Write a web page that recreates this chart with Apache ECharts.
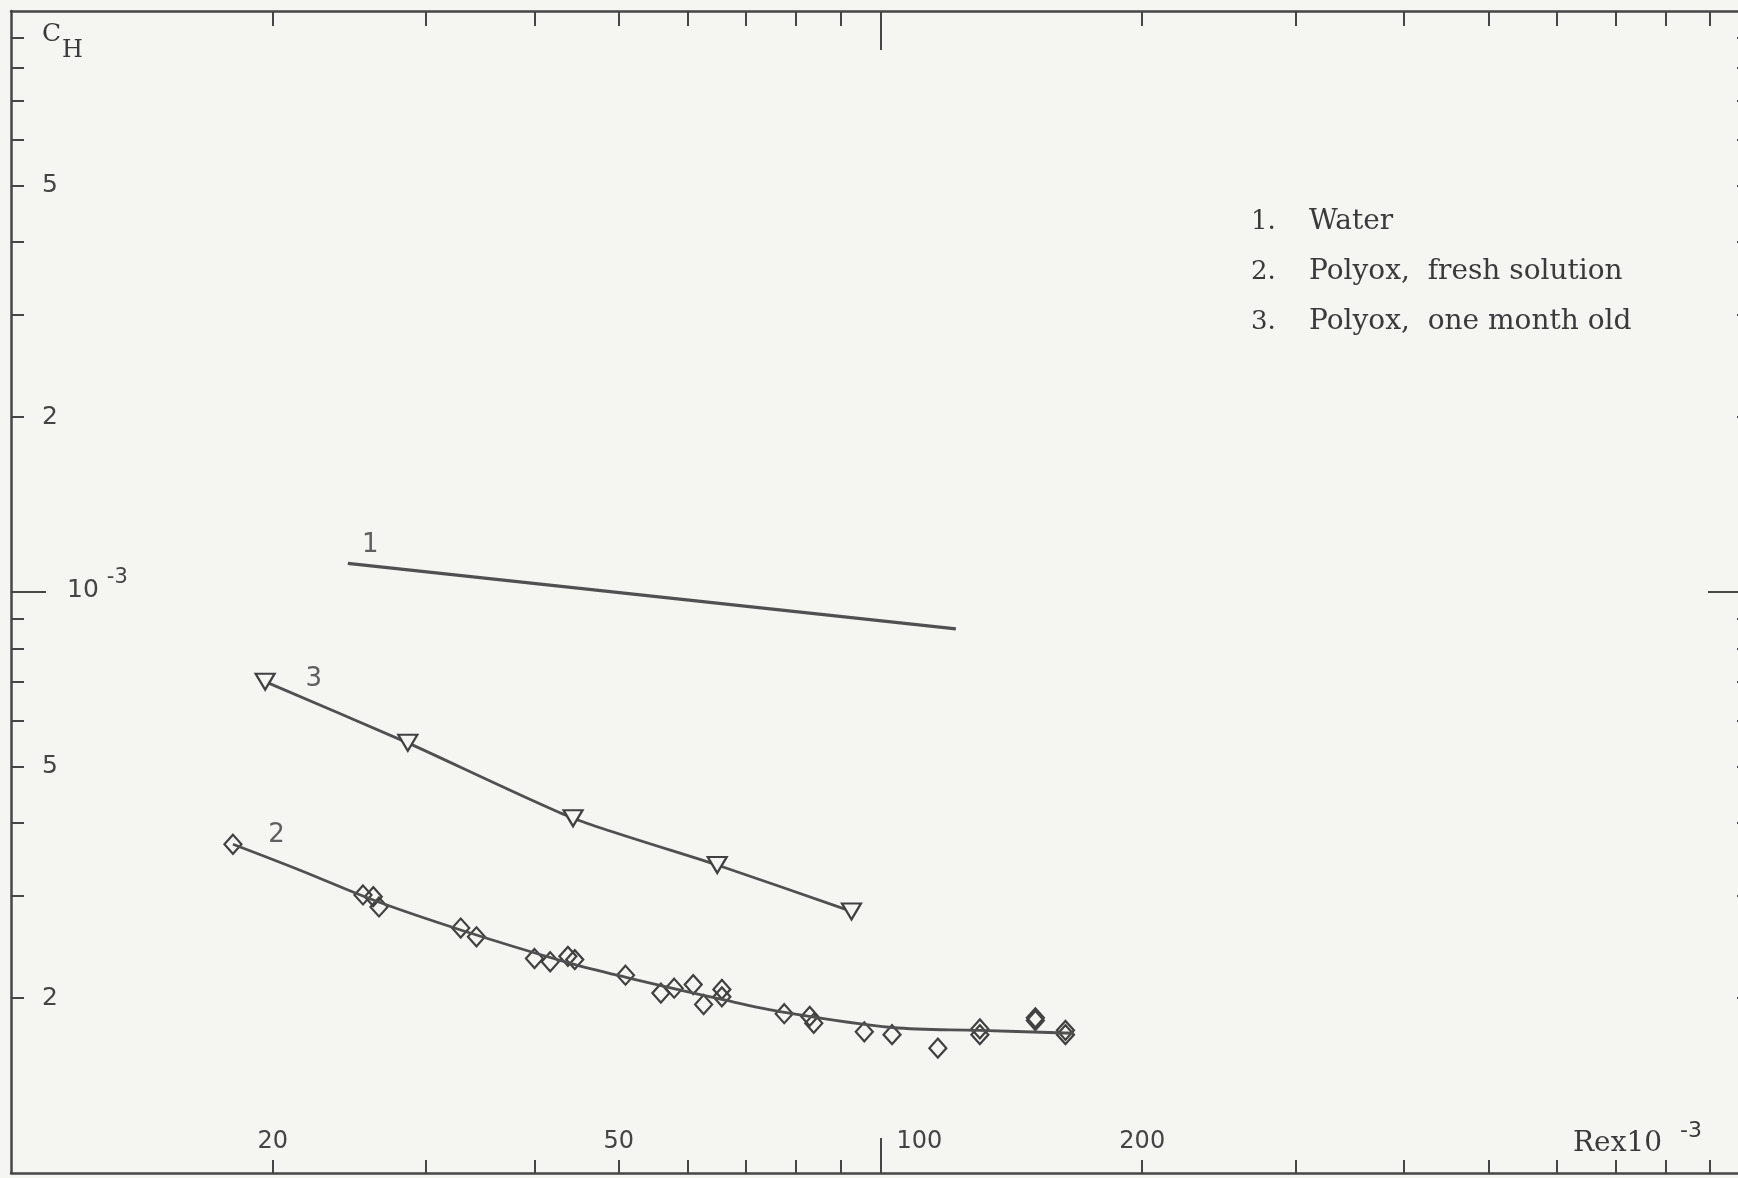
<!DOCTYPE html>
<html>
<head>
<meta charset="utf-8">
<title>C_H vs Re</title>
<script src="https://cdn.jsdelivr.net/npm/echarts@6/dist/echarts.min.js"></script>
<style>
html, body { margin: 0; padding: 0; overflow: hidden; background: #f5f5f2; }
#chart { width: 1738px; height: 1178px; }
</style>
</head>
<body>
<div id="chart"></div>
<script>
// curve 1 : water
var waterRe = [24.4, 122.1];
var waterCH = [1.12e-3, 8.64e-4];

// curve 3 : polyox, one month old (triangles)
var oldRe = [19.6, 28.6, 44.3, 64.9, 92.6];
var oldCH = [7.01e-4, 5.50e-4, 4.08e-4, 3.39e-4, 2.82e-4];

// curve 2 : polyox, fresh solution (diamonds)
var freshRe = [18.0, 25.4, 26.1, 26.5, 32.9, 34.3, 40.0, 41.7, 43.7, 44.5, 50.9, 55.9, 57.9, 60.9, 62.6,
               65.7, 65.7, 77.5, 82.9, 83.8, 95.8, 103.1, 116.4, 130.1, 130.1, 150.7, 150.7, 163.2, 163.2];
var freshCH = [3.68e-4, 3.01e-4, 2.99e-4, 2.87e-4, 2.64e-4, 2.55e-4, 2.34e-4, 2.31e-4, 2.36e-4, 2.33e-4, 2.19e-4, 2.04e-4, 2.08e-4, 2.11e-4, 1.95e-4,
               2.07e-4, 2.01e-4, 1.88e-4, 1.86e-4, 1.81e-4, 1.75e-4, 1.73e-4, 1.64e-4, 1.77e-4, 1.73e-4, 1.85e-4, 1.83e-4, 1.76e-4, 1.73e-4];
// the drawn curve through the diamonds
var fitRe = [18.0, 21.5, 26.1, 32.9, 43.8, 51.1, 65.7, 77.6, 103.2, 130.0, 166.7];
var fitCH = [3.68e-4, 3.32e-4, 2.95e-4, 2.62e-4, 2.30e-4, 2.17e-4, 1.99e-4, 1.89e-4, 1.78e-4, 1.76e-4, 1.74e-4];

// curve numbers written next to the curves
var tagText = ['1', '3', '2'];
var tagRe = [25.9, 22.3, 20.2];
var tagCH = [1.205e-3, 7.08e-4, 3.82e-4];

// legend
var legendNum = ['1.', '2.', '3.'];
var legendName = ['Water', 'Polyox,  fresh solution', 'Polyox,  one month old'];

// ticks and labels
var xTickVals = [20, 30, 40, 50, 60, 70, 80, 90, 200, 300, 400, 500, 600, 700, 800, 900];
var xMajorTick = [100];
var xLabelVals = [20, 50, 200];
var yTickVals = [0.0002, 0.0003, 0.0004, 0.0005, 0.0006, 0.0007, 0.0008, 0.0009,
                 0.002, 0.003, 0.004, 0.005, 0.006, 0.007, 0.008, 0.009];
var yMajorTick = [0.001];
var yLabelVals = [0.005, 0.002, 0.0005, 0.0002];
var yLabelText = ['5', '2', '5', '2'];

function zip(a, b) {
    var out = [];
    for (var i = 0; i < a.length; i++) out.push([a[i], b[i]]);
    return out;
}

var ink = '#464646';
var bg = '#f5f5f2';
var sans = 'DejaVu Sans';
var serif = 'DejaVu Serif';

var chart = echarts.init(document.getElementById('chart'));

var tagData = [];
for (var i = 0; i < tagText.length; i++) tagData.push([tagRe[i], tagCH[i], tagText[i]]);

var graphics = [
    {type: 'text', x: 42, y: 34, style: {text: 'C', font: '25px ' + serif, fill: '#3a3a3a', verticalAlign: 'middle'}},
    {type: 'text', x: 62, y: 51, style: {text: 'H', font: '24px ' + serif, fill: '#3a3a3a', verticalAlign: 'middle'}},
    {type: 'text', x: 1573, y: 1144, style: {text: 'Rex10', font: '28px ' + serif, fill: '#3a3a3a', verticalAlign: 'middle'}},
    {type: 'text', x: 1680, y: 1131, style: {text: '-3', font: '22px ' + sans, fill: '#3a3a3a', verticalAlign: 'middle'}}
];
for (var k = 0; k < legendName.length; k++) {
    graphics.push({type: 'text', x: 1251, y: 222 + k * 50, style: {text: legendNum[k], font: '26px ' + serif, fill: '#3a3a3a', verticalAlign: 'middle'}});
    graphics.push({type: 'text', x: 1309, y: 222 + k * 50, style: {text: legendName[k], font: '28px ' + serif, fill: '#3a3a3a', verticalAlign: 'middle'}});
}

var gridBox = {left: 11, top: 11, width: 1739, height: 1162, outerBoundsMode: 'none'};

option = {
    backgroundColor: bg,
    animation: false,
    grid: [gridBox, gridBox],
    xAxis: [
        {   // bottom, short ticks + labels
            type: 'log', gridIndex: 0, position: 'bottom', min: 10, max: 1000,
            axisLine: {show: true, onZero: false, lineStyle: {color: ink, width: 2.5}},
            axisTick: {show: true, inside: true, length: 13, customValues: xTickVals, lineStyle: {color: ink, width: 2}},
            axisLabel: {show: true, inside: true, customValues: xLabelVals, margin: 31, verticalAlign: 'middle',
                        fontFamily: sans, fontSize: 24, color: '#444'},
            splitLine: {show: false}
        },
        {   // top, short ticks
            type: 'log', gridIndex: 0, position: 'top', min: 10, max: 1000,
            axisLine: {show: true, onZero: false, lineStyle: {color: ink, width: 2.5}},
            axisTick: {show: true, inside: true, length: 15, customValues: xTickVals, lineStyle: {color: ink, width: 2}},
            axisLabel: {show: false},
            splitLine: {show: false}
        },
        {   // bottom, long tick at 100
            type: 'log', gridIndex: 1, position: 'bottom', min: 10, max: 1000,
            axisLine: {show: false, onZero: false},
            axisTick: {show: true, inside: true, length: 35, customValues: xMajorTick, lineStyle: {color: ink, width: 2}},
            axisLabel: {show: true, inside: true, customValues: xMajorTick, margin: 31, verticalAlign: 'middle', align: 'left',
                        padding: [0, 0, 0, 16], fontFamily: sans, fontSize: 24, color: '#444'},
            splitLine: {show: false}
        },
        {   // top, long tick at 100
            type: 'log', gridIndex: 1, position: 'top', min: 10, max: 1000,
            axisLine: {show: false, onZero: false},
            axisTick: {show: true, inside: true, length: 39, customValues: xMajorTick, lineStyle: {color: ink, width: 2}},
            axisLabel: {show: false},
            splitLine: {show: false}
        }
    ],
    yAxis: [
        {   // left, short ticks + labels
            type: 'log', gridIndex: 0, position: 'left', min: 0.0001, max: 0.01,
            axisLine: {show: true, onZero: false, lineStyle: {color: ink, width: 2.5}},
            axisTick: {show: true, inside: true, length: 13, customValues: yTickVals, lineStyle: {color: ink, width: 2}},
            axisLabel: {
                show: true, inside: true, customValues: yLabelVals, margin: 31, verticalAlign: 'middle',
                fontFamily: sans, fontSize: 25, color: '#444',
                formatter: function (v) {
                    for (var i = 0; i < yLabelVals.length; i++) {
                        if (Math.abs(v - yLabelVals[i]) < yLabelVals[i] * 1e-6) return yLabelText[i];
                    }
                    return '';
                }
            },
            splitLine: {show: false}
        },
        {   // right, short ticks
            type: 'log', gridIndex: 0, position: 'right', min: 0.0001, max: 0.01,
            axisLine: {show: true, onZero: false, lineStyle: {color: ink, width: 2.5}},
            axisTick: {show: true, inside: true, length: 13, customValues: yTickVals, lineStyle: {color: ink, width: 2}},
            axisLabel: {show: false},
            splitLine: {show: false}
        },
        {   // left, long tick at 10^-3
            type: 'log', gridIndex: 1, position: 'left', min: 0.0001, max: 0.01,
            axisLine: {show: false, onZero: false},
            axisTick: {show: true, inside: true, length: 35, customValues: yMajorTick, lineStyle: {color: ink, width: 2}},
            axisLabel: {
                show: true, inside: true, customValues: yMajorTick, margin: 56, verticalAlign: 'middle',
                padding: [0, 0, 14, 0], lineHeight: 35,
                formatter: function () { return '{b|10}{s|-3}'; },
                rich: {
                    b: {fontFamily: sans, fontSize: 25, color: '#444', verticalAlign: 'bottom', lineHeight: 35},
                    s: {fontFamily: sans, fontSize: 21, color: '#444', verticalAlign: 'top', lineHeight: 35, padding: [0, 0, 0, 8]}
                }
            },
            splitLine: {show: false}
        },
        {   // right, long tick at 10^-3
            type: 'log', gridIndex: 1, position: 'right', min: 0.0001, max: 0.01,
            axisLine: {show: false, onZero: false},
            axisTick: {show: true, inside: true, length: 42, customValues: yMajorTick, lineStyle: {color: ink, width: 2}},
            axisLabel: {show: false},
            splitLine: {show: false}
        }
    ],
    series: [
        {
            name: legendName[0], type: 'line', xAxisIndex: 0, yAxisIndex: 0,
            data: zip(waterRe, waterCH), symbol: 'none',
            lineStyle: {color: '#505050', width: 3.4}
        },
        {
            name: legendName[1] + ' curve', type: 'line', xAxisIndex: 0, yAxisIndex: 0,
            data: zip(fitRe, fitCH), symbol: 'none', smooth: 0.35,
            lineStyle: {color: '#505050', width: 2.8}
        },
        {
            name: legendName[1], type: 'scatter', xAxisIndex: 0, yAxisIndex: 0,
            data: zip(freshRe, freshCH), symbol: 'diamond', symbolSize: [17, 19],
            itemStyle: {color: 'rgba(0,0,0,0)', borderColor: '#404040', borderWidth: 2.2, opacity: 1}
        },
        {
            name: legendName[2], type: 'line', xAxisIndex: 0, yAxisIndex: 0,
            data: zip(oldRe, oldCH), smooth: 0.2, showAllSymbol: true,
            symbol: 'triangle', symbolRotate: 180, symbolSize: [19, 16],
            lineStyle: {color: '#505050', width: 2.8},
            itemStyle: {color: bg, borderColor: '#404040', borderWidth: 2.2}
        },
        {
            name: 'tags', type: 'scatter', xAxisIndex: 0, yAxisIndex: 0,
            data: tagData, symbolSize: 1, itemStyle: {color: 'rgba(0,0,0,0)'},
            label: {show: true, position: 'inside', formatter: function (p) { return p.value[2]; },
                    fontFamily: sans, fontSize: 26, color: '#3a3a3a'}
        }
    ],
    graphic: graphics
};

chart.setOption(option);
</script>
</body>
</html>
